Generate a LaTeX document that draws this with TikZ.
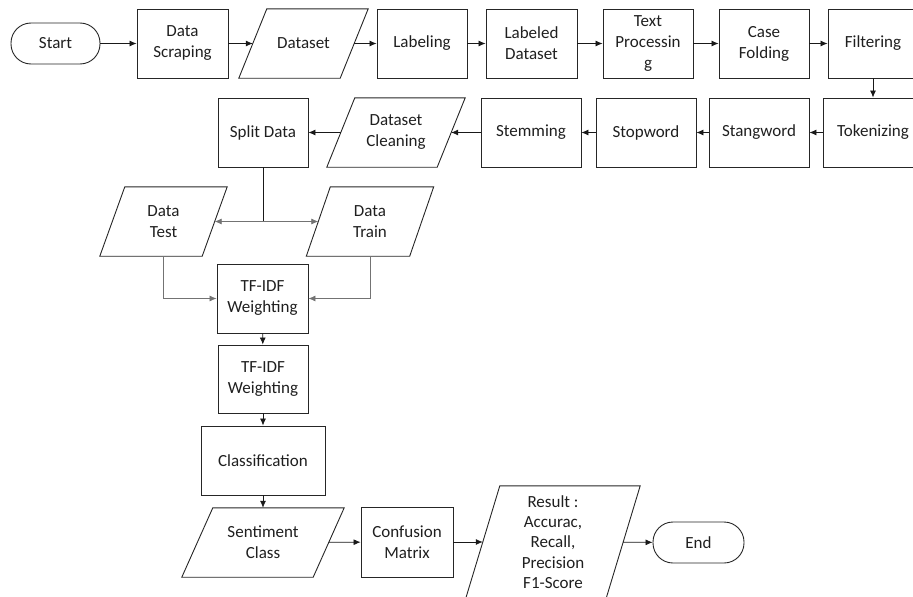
\documentclass[tikz,border=0pt]{standalone}
\usepackage{fontspec}
\setmainfont{Carlito}
\usetikzlibrary{arrows.meta,positioning,calc}
\newcommand\parashape[2]{\draw[boxline] ([xshift=#2/2]#1.north west) -- ([xshift=#2/2]#1.north east) -- ([xshift=-#2/2]#1.south east) -- ([xshift=-#2/2]#1.south west) -- cycle;}
\begin{document}
\begin{tikzpicture}[x=1pt,y=-1pt,
  boxline/.style={draw=black!85,line width=0.9pt},
  base/.style={inner sep=0pt,align=center,font=\fontsize{17}{21}\selectfont,text=black!88},
  procbox/.style={base,boxline,rectangle,minimum width=#1,minimum height=69pt},
  procbox/.default=90pt,
  iobox/.style={base,rectangle,minimum width=#1,minimum height=69pt},
  termbox/.style={base,boxline,rectangle,rounded corners=20pt,minimum width=90pt,minimum height=41pt},
  flow/.style={draw=black!90,line width=0.8pt,-{Latex[length=7pt,width=6pt]}},
  thin/.style={draw=black!55,line width=0.7pt,-{Latex[length=7pt,width=6pt]}},
  plain/.style={draw=black!90,line width=0.8pt}
]
\useasboundingbox (0,0) rectangle (913,597);

% Row 1
\node[termbox,minimum width=89pt] (start) at (55.5,43.5) {Start};
\node[procbox=91pt] (scrap) at (182.5,43.5) {Data\\Scraping};
\node[iobox=101pt] (ds) at (303.5,43.5) {Dataset};
\parashape{ds}{28}
\node[procbox] (label) at (422,43.5) {Labeling};
\node[procbox=91pt] (lds) at (531.5,43.5) {Labeled\\Dataset};
\node[procbox] (textp) at (648,43.5) {Text\\Processin\\g};
\node[procbox] (case) at (764,43.5) {Case\\Folding};
\node[procbox] (filt) at (873,43.5) {Filtering};

% Row 2
\node[procbox=100pt] (tok) at (873,132.5) {Tokenizing};
\node[procbox=100pt] (stang) at (759,132.5) {Stangword};
\node[procbox=100pt] (stop) at (646,132.5) {Stopword};
\node[procbox=100pt] (stem) at (531,132.5) {Stemming};
\node[iobox=110pt] (dsc) at (396,132.5) {Dataset\\Cleaning};
\parashape{dsc}{28}
\node[procbox] (split) at (263,132.5) {Split Data};

% Row 3
\node[iobox=102pt] (dtest) at (163.5,221.5) {Data\\Test};
\parashape{dtest}{25}
\node[iobox=103pt] (dtrain) at (370,221.5) {Data\\Train};
\parashape{dtrain}{24}

\node[procbox=91pt] (tf1) at (262.5,298.5) {TF-IDF\\Weighting};
\node[procbox,minimum height=68pt] (tf2) at (263,379) {TF-IDF\\Weighting};
\node[procbox=124pt] (cls) at (263,460.5) {Classification};

% Bottom row
\node[iobox=131pt] (sent) at (263,542.5) {Sentiment\\Class};
\parashape{sent}{31}
\node[procbox=92pt,minimum height=70pt] (conf) at (407,542) {Confusion\\Matrix};
\node[iobox=140pt,minimum height=112pt,font=\fontsize{17}{20.2}\selectfont] (res) at (553,542) {Result :\\Accurac,\\Recall,\\Precision\\F1-Score};
\parashape{res}{34}
\node[termbox,minimum width=91pt] (endn) at (698.5,542.5) {End};

% Connectors
\draw[flow] (start) -- (scrap);
\draw[flow] (scrap) -- (ds);
\draw[flow] (ds) -- (label);
\draw[flow] (label) -- (lds);
\draw[flow] (lds) -- (textp);
\draw[flow] (textp) -- (case);
\draw[flow] (case) -- (filt);
\draw[flow] (filt) -- (tok);
\draw[flow] (tok) -- (stang);
\draw[flow] (stang) -- (stop);
\draw[flow] (stop) -- (stem);
\draw[flow] (stem) -- (dsc);
\draw[flow] (dsc) -- (split);

\coordinate (br) at (split.south |- dtest.east);
\draw[plain] (split.south) -- (br);
\draw[thin] (br) -- (dtest.east);
\draw[thin] (br) -- (dtrain.west);
\draw[thin] (dtest.south) |- (tf1.west);
\draw[thin] (dtrain.south) |- (tf1.east);

\draw[flow] (tf1) -- (tf2);
\draw[flow] (tf2) -- (cls);
\draw[flow] (cls) -- (sent);
\draw[flow] (sent) -- (conf);
\draw[flow] (conf) -- (res);
\draw[flow] (res) -- (endn);
\end{tikzpicture}
\end{document}
